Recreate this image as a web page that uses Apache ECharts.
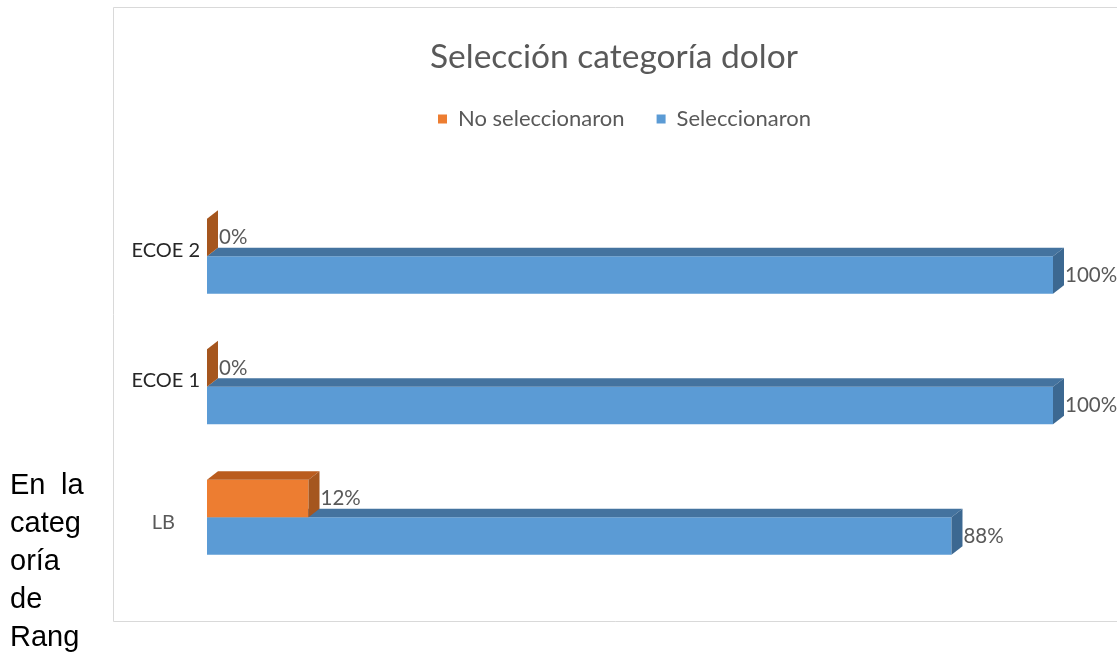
<!DOCTYPE html>
<html>
<head>
<meta charset="utf-8">
<script src="https://cdn.jsdelivr.net/npm/echarts@6/dist/echarts.min.js"></script>
<style>
html,body{margin:0;padding:0;background:#fff;}
#main{width:1117px;height:659px;}
</style>
</head>
<body>
<div id="main"></div>
<script>
// ---- data ----
const categories = ['LB', 'ECOE 1', 'ECOE 2'];
const noSeleccionaron = [12, 0, 0];
const seleccionaron = [88, 100, 100];
const seriesNames = ['No seleccionaron', 'Seleccionaron'];
const titleText = 'Selección categoría dolor';
const bodyLines = ['categ', 'oría', 'de', 'Rang'];

const FONT = 'Lato';
const DX = 11, DY = 8.5;

function makeRender(upper, colors) {
  return function (params, api) {
    const v = api.value(0);
    const c = api.value(1);
    const p0 = api.coord([0, c]);
    const p1 = api.coord([v, c]);
    const band = api.size([0, 1])[1];
    const h = band * 0.2875;
    const x0 = p0[0], x1 = p1[0];
    const yTop = upper ? p0[1] - h : p0[1];
    const yBot = yTop + h;
    const children = [];
    if (x1 - x0 > 0.5) {
      children.push({
        type: 'rect',
        shape: { x: x0, y: yTop, width: x1 - x0, height: h },
        style: { fill: colors.front }
      });
      children.push({
        type: 'polygon',
        shape: { points: [[x0, yTop], [x0 + DX, yTop - DY], [x1 + DX, yTop - DY], [x1, yTop]] },
        style: { fill: colors.top }
      });
    }
    children.push({
      type: 'polygon',
      shape: { points: [[x1, yTop], [x1 + DX, yTop - DY], [x1 + DX, yBot - DY], [x1, yBot]] },
      style: { fill: colors.side }
    });
    children.push({
      type: 'text',
      style: {
        text: v + '%',
        x: x1 + DX + 1,
        y: (yTop + yBot) / 2,
        verticalAlign: 'middle',
        align: 'left',
        fill: '#595959',
        font: '20.5px ' + FONT
      }
    });
    return { type: 'group', children: children };
  };
}

const chart = echarts.init(document.getElementById('main'), null, { renderer: 'canvas' });

const bodyGraphics = [
  { type: 'text', left: 10, top: 471, style: { text: 'En', font: '29px "Liberation Sans"', fill: '#000' } },
  { type: 'text', left: 61, top: 471, style: { text: 'la', font: '29px "Liberation Sans"', fill: '#000' } }
];
bodyLines.forEach(function (t, i) {
  bodyGraphics.push({ type: 'text', left: 10, top: 509 + i * 38, style: { text: t, font: '29px "Liberation Sans"', fill: '#000' } });
});

chart.setOption({
  animation: false,
  backgroundColor: '#ffffff',
  title: {
    text: titleText,
    left: 425,
    top: 35,
    textStyle: { fontFamily: FONT, fontSize: 33.5, fontWeight: 'normal', color: '#595959' }
  },
  legend: {
    data: seriesNames,
    top: 103,
    left: 433,
    icon: 'rect',
    itemWidth: 9,
    itemHeight: 9,
    itemGap: 32,
    textStyle: { fontFamily: FONT, fontSize: 22, color: '#595959', padding: [0, 0, 0, 6] }
  },
  grid: { left: 207, top: 191, width: 846, height: 391.5 },
  xAxis: { type: 'value', min: 0, max: 100, show: false },
  yAxis: {
    type: 'category',
    data: categories,
    axisLine: { show: false },
    axisTick: { show: false },
    splitLine: { show: false },
    axisLabel: {
      margin: 7,
      fontFamily: FONT,
      fontSize: 20,
      color: '#262626',
      formatter: function (v) { return v === 'LB' ? '{lb|' + v + '}' : '{e|' + v + '}'; },
      rich: {
        lb: { fontFamily: FONT, fontSize: 20, color: '#595959', padding: [10, 25, 0, 0] },
        e: { fontFamily: FONT, fontSize: 20, color: '#262626', padding: [0, 0, 12, 0] }
      }
    }
  },
  graphic: [
    { type: 'rect', shape: { x: 113.5, y: 7.5, width: 1010, height: 614 }, style: { fill: 'none', stroke: '#d9d9d9', lineWidth: 1 } }
  ].concat(bodyGraphics),
  series: [
    {
      name: seriesNames[1],
      type: 'custom',
      itemStyle: { color: '#5B9BD5' },
      renderItem: makeRender(false, { front: '#5B9BD5', top: '#44739F', side: '#3C6891' }),
      data: seleccionaron.map(function (v, i) { return [v, i]; }),
      encode: { x: 0, y: 1 }
    },
    {
      name: seriesNames[0],
      type: 'custom',
      itemStyle: { color: '#ED7D31' },
      renderItem: makeRender(true, { front: '#ED7D31', top: '#BA5C1E', side: '#A5561E' }),
      data: noSeleccionaron.map(function (v, i) { return [v, i]; }),
      encode: { x: 0, y: 1 }
    }
  ]
});
</script>
</body>
</html>
